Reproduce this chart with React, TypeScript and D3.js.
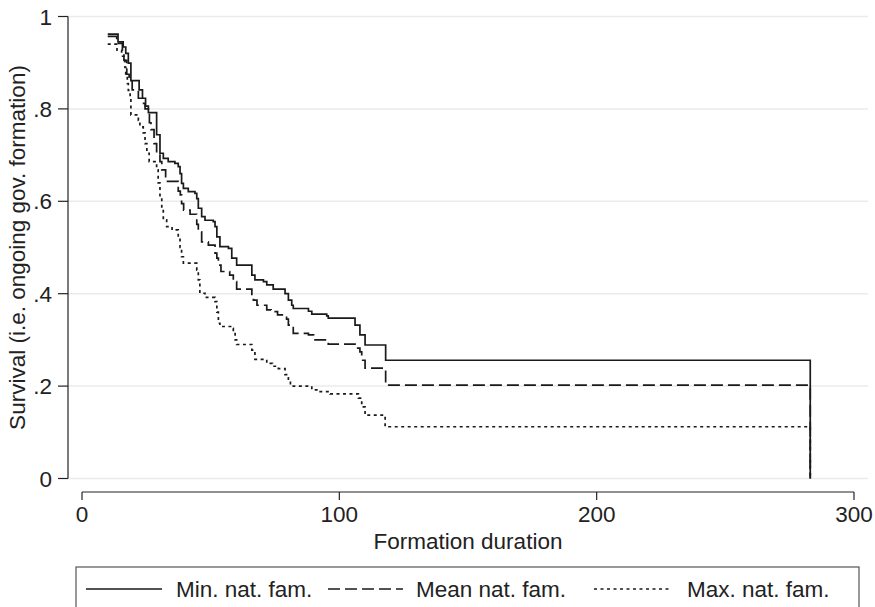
import * as d3 from 'd3'

// Kaplan-Meier step points: time -> survival from that time on
const minTime = [10, 14, 16, 17, 18, 19, 22.2, 23.5, 24.7, 25.8, 29, 30.3, 31.6, 33.5, 36.1, 37.4, 38.1, 38.7, 39.4, 41.3, 43.9, 44.6, 45.2, 46.5, 47.8, 51, 51.7, 52.4, 53.6, 56.9, 58.2, 60.1, 66, 67.2, 70.5, 71.8, 74.3, 78.9, 80.2, 81.5, 82.1, 88, 89.3, 95.1, 95.7, 106.1, 108, 110, 118, 283]
const minSurv = [0.962, 0.945, 0.934, 0.92, 0.899, 0.861, 0.841, 0.823, 0.806, 0.792, 0.744, 0.704, 0.693, 0.686, 0.682, 0.675, 0.66, 0.639, 0.628, 0.621, 0.617, 0.606, 0.585, 0.567, 0.559, 0.556, 0.545, 0.523, 0.502, 0.498, 0.477, 0.462, 0.44, 0.43, 0.426, 0.419, 0.41, 0.4, 0.386, 0.375, 0.368, 0.362, 0.356, 0.352, 0.347, 0.332, 0.311, 0.289, 0.256, 0]

const meanTime = [10, 13.5, 15.7, 16.3, 17.4, 18.3, 19.5, 21.9, 23.5, 24.5, 25.8, 26.2, 26.8, 28, 29, 30.3, 31, 32.5, 37.4, 38.2, 38.7, 39.5, 42, 44.6, 45.2, 46.5, 49.1, 51.7, 52.4, 53, 54, 57.4, 58.8, 60.1, 66, 66.6, 68, 71.8, 73.5, 76, 79.5, 80.2, 82.1, 88, 90, 95.1, 95.7, 106.1, 108, 108.7, 110, 118, 283]
const meanSurv = [0.957, 0.942, 0.925, 0.905, 0.875, 0.863, 0.841, 0.823, 0.812, 0.8, 0.79, 0.77, 0.755, 0.725, 0.705, 0.686, 0.668, 0.643, 0.622, 0.614, 0.595, 0.581, 0.572, 0.55, 0.534, 0.512, 0.505, 0.488, 0.477, 0.462, 0.448, 0.44, 0.426, 0.41, 0.395, 0.386, 0.375, 0.365, 0.361, 0.354, 0.345, 0.332, 0.314, 0.311, 0.3, 0.296, 0.291, 0.282, 0.274, 0.256, 0.239, 0.202, 0]

const maxTime = [10, 13.6, 15.4, 16.7, 17, 17.6, 18, 18.7, 19, 21.9, 22.5, 23.8, 24.5, 25.2, 26.1, 29, 29.6, 30.3, 31, 31.6, 32.9, 35, 37.4, 38.1, 38.7, 39.4, 44.6, 45.2, 45.8, 47.8, 51.7, 52.4, 53, 53.6, 58.2, 58.8, 59.5, 60.1, 66, 67.2, 71.8, 74, 76.3, 78.9, 80.2, 81, 82.1, 89.3, 92, 96.4, 107.4, 108.7, 110, 117.8, 283]
const maxSurv = [0.94, 0.927, 0.914, 0.89, 0.87, 0.855, 0.84, 0.826, 0.787, 0.775, 0.761, 0.748, 0.725, 0.704, 0.686, 0.668, 0.64, 0.61, 0.58, 0.56, 0.545, 0.538, 0.523, 0.5, 0.48, 0.466, 0.451, 0.43, 0.401, 0.392, 0.383, 0.36, 0.336, 0.329, 0.325, 0.318, 0.3, 0.29, 0.278, 0.258, 0.249, 0.243, 0.238, 0.225, 0.21, 0.202, 0.2, 0.192, 0.188, 0.183, 0.174, 0.155, 0.137, 0.112, 0]

const xTicks = [0, 100, 200, 300]
const yTicks = [0, 0.2, 0.4, 0.6, 0.8, 1]
const yTickLabels = ['0', '.2', '.4', '.6', '.8', '1']

const seriesNames = ['Min. nat. fam.', 'Mean nat. fam.', 'Max. nat. fam.']
const dashes = [null, '12,5', '3,3.5']

const FONT = '"Liberation Sans", Arial, Helvetica, sans-serif'

export default function App() {
  const width = 875
  const height = 607

  const x = d3.scaleLinear().domain([0, 300]).range([82, 854])
  const y = d3.scaleLinear().domain([0, 1]).range([478.5, 16.5])

  const line = d3.line<[number, number]>()
    .x(d => x(d[0]))
    .y(d => y(d[1]))
    .curve(d3.curveStepAfter)

  const series = [
    d3.zip(minTime, minSurv) as [number, number][],
    d3.zip(meanTime, meanSurv) as [number, number][],
    d3.zip(maxTime, maxSurv) as [number, number][]
  ]

  const plotLeft = 68
  const plotRight = 868
  const xAxisY = 492

  // legend entry positions
  const legendY = 589
  const legendItems = [
    { x1: 86, x2: 162, tx: 176 },
    { x1: 328, x2: 403, tx: 416 },
    { x1: 594, x2: 670, tx: 687 }
  ]

  return (
    <svg width={width} height={height} style={{ position: 'absolute', left: 0, top: 0, background: '#fff' }} fontFamily={FONT}>
      <rect width={width} height={height} fill="#fff" />

      {/* grid */}
      {yTicks.map(t => (
        <line key={`g${t}`} x1={plotLeft} x2={plotRight} y1={y(t)} y2={y(t)} stroke="#ebebeb" strokeWidth={1.5} />
      ))}

      {/* y axis */}
      <line x1={plotLeft} x2={plotLeft} y1={y(1)} y2={y(0)} stroke="#222" strokeWidth={1.2} />
      {yTicks.map((t, i) => (
        <g key={`y${t}`}>
          <line x1={plotLeft - 10} x2={plotLeft} y1={y(t)} y2={y(t)} stroke="#222" strokeWidth={1.2} />
          <text x={52} y={y(t)} dy="0.36em" textAnchor="end" fontSize={22.5} fill="#222">{yTickLabels[i]}</text>
        </g>
      ))}
      <text transform={`translate(25, ${(y(0) + y(1)) / 2}) rotate(-90)`} textAnchor="middle" fontSize={22.5} fill="#222">
        Survival (i.e. ongoing gov. formation)
      </text>

      {/* x axis */}
      <line x1={x(0)} x2={x(300)} y1={xAxisY} y2={xAxisY} stroke="#222" strokeWidth={1.2} />
      {xTicks.map(t => (
        <g key={`x${t}`}>
          <line x1={x(t)} x2={x(t)} y1={xAxisY} y2={xAxisY + 8} stroke="#222" strokeWidth={1.2} />
          <text x={x(t)} y={522} textAnchor="middle" fontSize={22.5} fill="#222">{t}</text>
        </g>
      ))}
      <text x={(x(0) + x(300)) / 2} y={549} textAnchor="middle" fontSize={22.5} fill="#222">Formation duration</text>

      {/* survival curves */}
      {series.map((s, i) => (
        <path key={`s${i}`} d={line(s) || ''} fill="none" stroke="#1a1a1a" strokeWidth={1.7}
          strokeDasharray={dashes[i] || undefined} />
      ))}

      {/* legend */}
      <rect x={76} y={567} width={783} height={60} fill="#fff" stroke="#555" strokeWidth={1.2} />
      {legendItems.map((it, i) => (
        <g key={`l${i}`}>
          <line x1={it.x1} x2={it.x2} y1={legendY} y2={legendY} stroke="#1a1a1a" strokeWidth={1.7}
            strokeDasharray={dashes[i] || undefined} />
          <text x={it.tx} y={legendY} dy="0.36em" fontSize={22.5} fill="#222">{seriesNames[i]}</text>
        </g>
      ))}
    </svg>
  )
}
